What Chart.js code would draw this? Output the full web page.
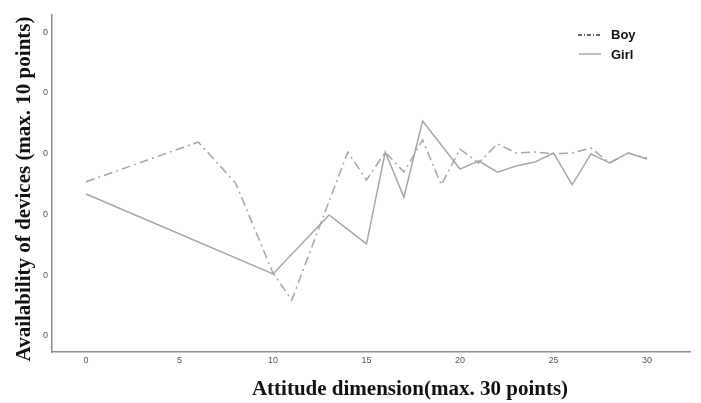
<!DOCTYPE html>
<html>
<head>
<meta charset="utf-8">
<script src="https://cdn.jsdelivr.net/npm/chart.js@4/dist/chart.umd.min.js"></script>
<style>
  html, body { margin: 0; padding: 0; background: #fff; }
  #wrap { width: 701px; height: 403px; position: relative; }
</style>
</head>
<body>
<div id="wrap"><canvas id="chart" width="701" height="403"></canvas></div>
<script>
// values (attitude score -> availability score)
const boyX  = [0, 6, 8, 10, 11, 14, 15, 16, 17, 18, 19, 20, 21, 22, 23, 24, 25, 26, 27, 28, 29, 30];
const boyY  = [5.07, 6.38, 5.03, 2.07, 1.18, 6.05, 5.13, 6.05, 5.39, 6.45, 4.97, 6.15, 5.69, 6.32, 6.02, 6.05, 5.99, 6.02, 6.18, 5.69, 6.02, 5.85];
const girlX = [0, 10, 13, 15, 16, 17, 18, 20, 21, 22, 23, 24, 25, 26, 27, 28, 29, 30];
const girlY = [4.67, 2.04, 3.98, 3.03, 6.05, 4.57, 7.07, 5.49, 5.76, 5.39, 5.59, 5.72, 6.02, 4.97, 5.99, 5.69, 6.02, 5.82];

const xTicks = [0, 5, 10, 15, 20, 25, 30];
const yTicks = [0, 2, 4, 6, 8, 10];
const yTickLabels = ['0', '0', '0', '0', '0', '0'];   // the source shows every y label as "0"

const xTitle = 'Attitude dimension(max. 30 points)';
const yTitle = 'Availability of devices (max. 10 points)';

const toPoints = (xs, ys) => xs.map((x, i) => ({ x: x, y: ys[i] }));

const titleFont = 'bold 21px "Liberation Serif", "Times New Roman", serif';

// axis titles sit a bit off-centre in the original, so they are drawn by hand
// together with the little legend in the top right corner
const decorations = {
  id: 'decorations',
  afterDraw(chart) {
    const ctx = chart.ctx;
    ctx.save();
    ctx.fillStyle = '#111';
    ctx.font = titleFont;
    ctx.textAlign = 'center';
    ctx.textBaseline = 'alphabetic';
    ctx.fillText(xTitle, 410, 395);
    ctx.save();
    ctx.translate(30, 189);
    ctx.rotate(-Math.PI / 2);
    ctx.fillText(yTitle, 0, 0);
    ctx.restore();

    ctx.textAlign = 'left';
    ctx.font = 'bold 13px "Liberation Sans", Arial, sans-serif';
    ctx.textBaseline = 'middle';
    ctx.lineWidth = 1.5;
    // Boy
    ctx.strokeStyle = '#333';
    ctx.setLineDash([4, 2, 1, 2]);
    ctx.beginPath(); ctx.moveTo(578, 35); ctx.lineTo(601, 35); ctx.stroke();
    ctx.fillText('Boy', 611, 35);
    // Girl
    ctx.strokeStyle = '#aaa';
    ctx.setLineDash([]);
    ctx.beginPath(); ctx.moveTo(579, 54); ctx.lineTo(601, 54); ctx.stroke();
    ctx.fillText('Girl', 611, 55);
    ctx.restore();
  }
};

new Chart(document.getElementById('chart').getContext('2d'), {
  type: 'line',
  data: {
    datasets: [
      {
        label: 'Boy',
        data: toPoints(boyX, boyY),
        borderColor: '#a6a6a6',
        borderWidth: 1.5,
        borderDash: [9, 4, 2, 4],
        pointRadius: 0,
        tension: 0,
        fill: false
      },
      {
        label: 'Girl',
        data: toPoints(girlX, girlY),
        borderColor: '#a6a6a6',
        borderWidth: 1.5,
        pointRadius: 0,
        tension: 0,
        fill: false
      }
    ]
  },
  options: {
    responsive: false,
    animation: false,
    layout: { padding: { top: 15, right: 11, left: 0, bottom: 0 } },
    plugins: {
      legend: { display: false },
      tooltip: { enabled: false }
    },
    scales: {
      x: {
        type: 'linear',
        min: -1.82,
        max: 32.3,
        grid: { display: false, drawTicks: false },
        border: { display: true, color: '#8c8c8c', width: 1.5 },
        afterBuildTicks: s => { s.ticks = xTicks.map(v => ({ value: v })); },
        afterFit: s => { s.height = 51; },
        ticks: {
          padding: 3,
          color: '#555',
          font: { family: 'Liberation Sans, Arial, sans-serif', size: 9 },
          maxRotation: 0
        }
      },
      y: {
        type: 'linear',
        min: -0.53,
        max: 10.56,
        grid: { display: false, drawTicks: false },
        border: { display: true, color: '#8c8c8c', width: 1.5 },
        afterBuildTicks: s => { s.ticks = yTicks.map(v => ({ value: v })); },
        afterFit: s => { s.width = 52; },
        ticks: {
          padding: 4,
          color: '#555',
          font: { family: 'Liberation Sans, Arial, sans-serif', size: 9 },
          callback: (v, i) => yTickLabels[i]
        }
      }
    }
  },
  plugins: [decorations]
});
</script>
</body>
</html>
